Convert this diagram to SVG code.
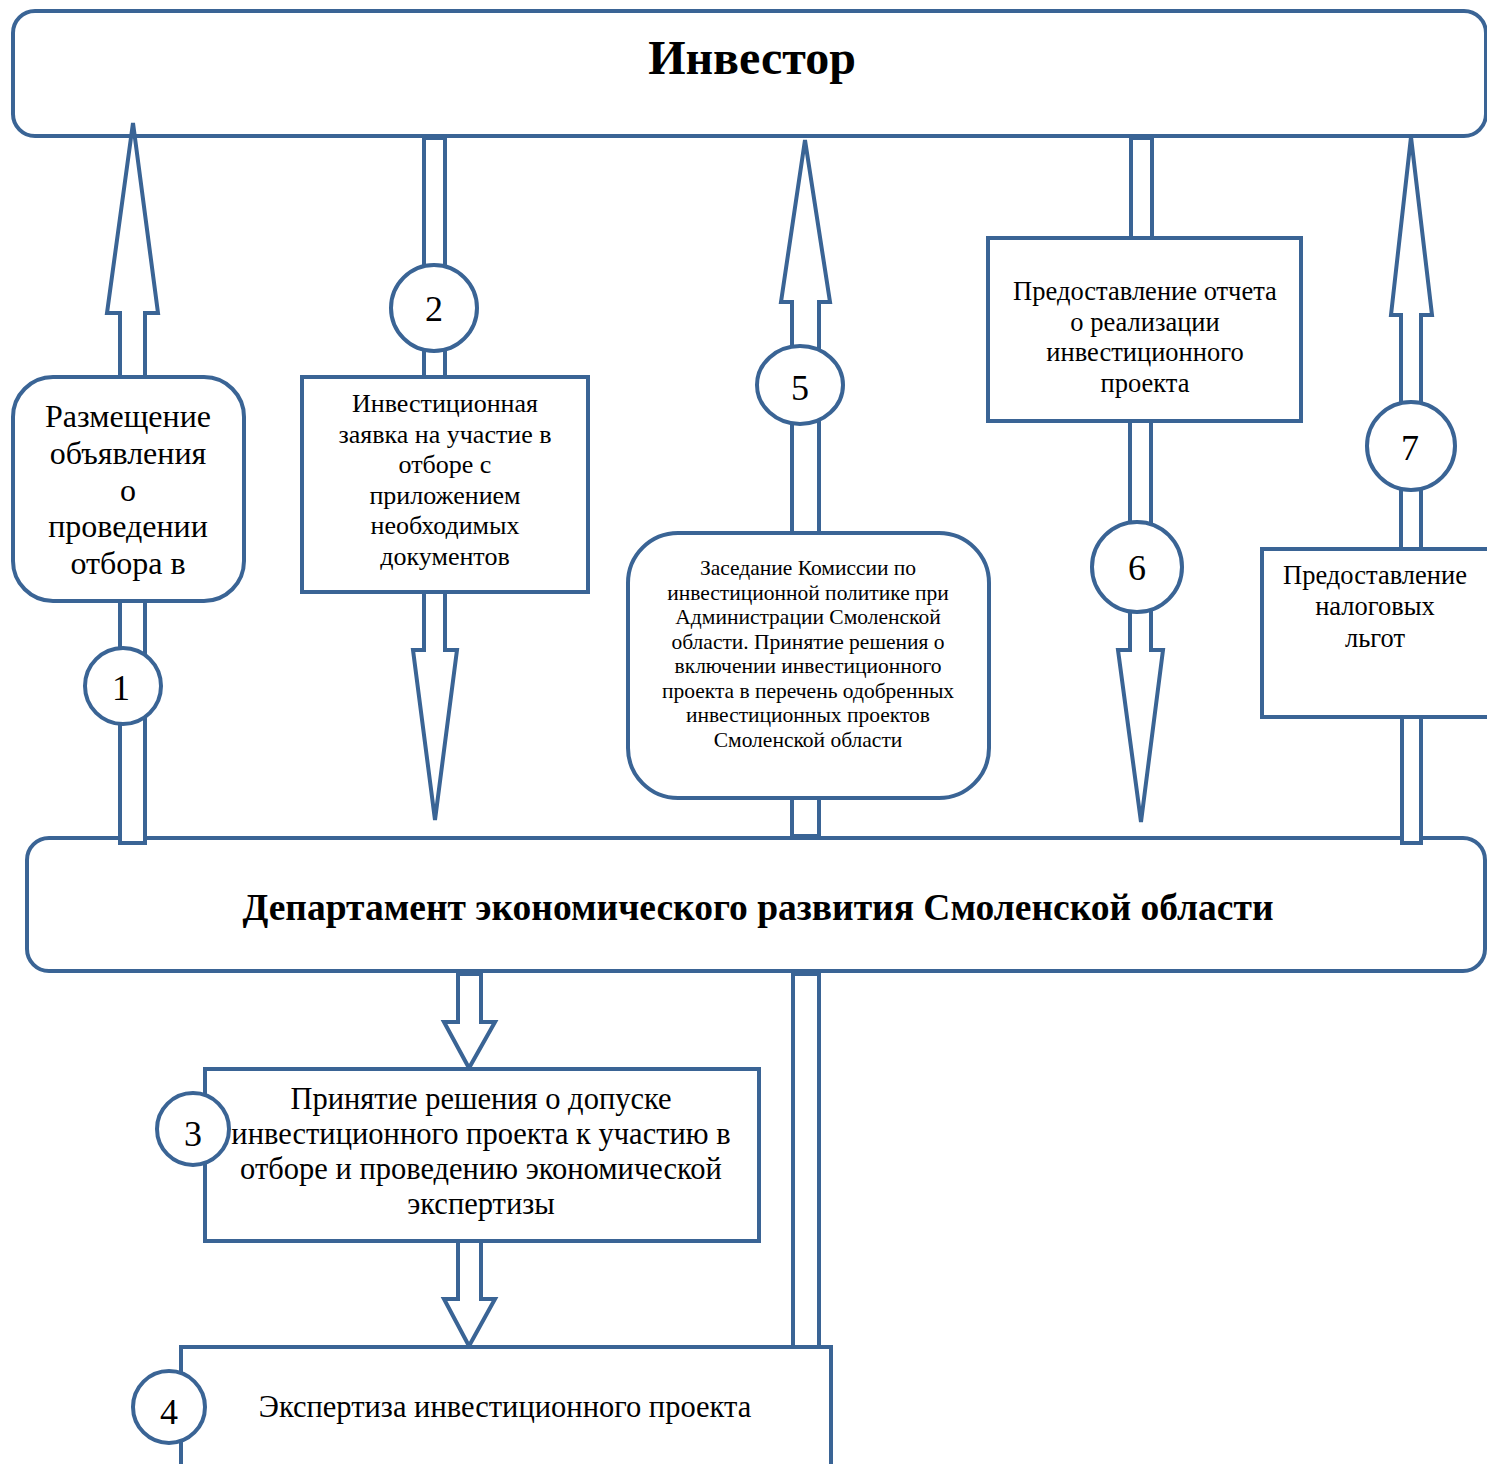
<svg xmlns="http://www.w3.org/2000/svg" width="1487" height="1464" viewBox="0 0 1487 1464">
<style>
.s{fill:#fff;stroke:#3a6495;stroke-width:4;stroke-linejoin:miter}
.t{font-family:"Liberation Serif","Times New Roman",serif;fill:#000;text-anchor:middle}
.b{font-weight:bold}
.n{font-size:36px}
</style>
<rect width="1487" height="1464" fill="#fff"/>
<g id="investor">
<rect class="s" x="13" y="11" width="1473" height="125" rx="22"/>
<text class="t b" x="752" y="74" font-size="48">Инвестор</text>
</g>
<g id="department">
<rect class="s" x="27" y="838" width="1458" height="133" rx="22" stroke-width="5"/>
<text class="t b" x="758" y="920" font-size="37.5">Департамент экономического развития Смоленской области</text>
</g>
<g id="connectors">
<polygon class="s" points="120,377 120,313 107,313 133,123 158,313 145,313 145,377"/>
<rect class="s" x="120" y="601" width="25" height="242"/>
<rect class="s" x="424" y="138" width="21" height="239"/>
<polygon class="s" points="424,592 424,650 413,650 435,820 457,650 445,650 445,592"/>
<polygon class="s" points="792,533 792,302 781,302 805,140 830,302 819,302 819,533"/>
<rect class="s" x="792" y="798" width="27" height="38"/>
<rect class="s" x="1131" y="138" width="21" height="100"/>
<polygon class="s" points="1130,421 1130,650 1118,650 1141,822 1163,650 1151,650 1151,421"/>
<polygon class="s" points="1401,549 1401,315 1391,315 1411,137 1432,315 1421,315 1421,549"/>
<rect class="s" x="1402" y="717" width="19" height="126"/>
<polygon class="s" points="458,974 458,1022 444,1022 469,1068 495,1022 481,1022 481,974"/>
<polygon class="s" points="458,1241 458,1299 444,1299 469,1346 495,1299 481,1299 481,1241"/>
<rect class="s" x="793" y="974" width="26" height="373"/>
</g>
<g id="node1">
<rect class="s" x="13" y="377" width="231" height="224" rx="40"/>
<text class="t" font-size="32"><tspan x="128" y="427">Размещение</tspan><tspan x="128" y="464">объявления</tspan><tspan x="128" y="501">о</tspan><tspan x="128" y="537">проведении</tspan><tspan x="128" y="574">отбора в</tspan></text>
</g>
<g id="node2">
<rect class="s" x="302" y="377" width="286" height="215"/>
<text class="t" font-size="26"><tspan x="445" y="412">Инвестиционная</tspan><tspan x="445" y="443">заявка на участие в</tspan><tspan x="445" y="473">отборе с</tspan><tspan x="445" y="504">приложением</tspan><tspan x="445" y="534">необходимых</tspan><tspan x="445" y="565">документов</tspan></text>
</g>
<g id="node5">
<rect class="s" x="628" y="533" width="361" height="265" rx="50"/>
<text class="t" font-size="21.5"><tspan x="808" y="575">Заседание Комиссии по</tspan><tspan x="808" y="600">инвестиционной политике при</tspan><tspan x="808" y="624">Администрации Смоленской</tspan><tspan x="808" y="649">области. Принятие решения о</tspan><tspan x="808" y="673">включении инвестиционного</tspan><tspan x="808" y="698">проекта в перечень одобренных</tspan><tspan x="808" y="722">инвестиционных проектов</tspan><tspan x="808" y="747">Смоленской области</tspan></text>
</g>
<g id="node6">
<rect class="s" x="988" y="238" width="313" height="183"/>
<text class="t" font-size="26.5"><tspan x="1145" y="300">Предоставление отчета</tspan><tspan x="1145" y="331">о реализации</tspan><tspan x="1145" y="361">инвестиционного</tspan><tspan x="1145" y="392">проекта</tspan></text>
</g>
<g id="node7">
<rect class="s" x="1262" y="549" width="230" height="168"/>
<text class="t" font-size="26.5"><tspan x="1375" y="584">Предоставление</tspan><tspan x="1375" y="615">налоговых</tspan><tspan x="1375" y="647">льгот</tspan></text>
</g>
<g id="node3">
<rect class="s" x="205" y="1069" width="554" height="172"/>
<text class="t" font-size="30.5"><tspan x="481" y="1109">Принятие решения о допуске</tspan><tspan x="481" y="1144">инвестиционного проекта к участию в</tspan><tspan x="481" y="1179">отборе и проведению экономической</tspan><tspan x="481" y="1214">экспертизы</tspan></text>
</g>
<g id="node4">
<rect class="s" x="181" y="1347" width="650" height="140"/>
<text class="t" x="505" y="1417" font-size="30.5">Экспертиза инвестиционного проекта</text>
</g>
<g id="circle1"><circle class="s" cx="123" cy="686" r="38"/><text class="t n" x="121" y="700">1</text></g>
<g id="circle2"><circle class="s" cx="434" cy="308" r="43"/><text class="t n" x="434" y="321">2</text></g>
<g id="circle3"><circle class="s" cx="193" cy="1129" r="36"/><text class="t n" x="193" y="1146">3</text></g>
<g id="circle4"><circle class="s" cx="169" cy="1407" r="36"/><text class="t n" x="169" y="1424">4</text></g>
<g id="circle5"><ellipse class="s" cx="800" cy="385" rx="43" ry="39"/><text class="t n" x="800" y="400">5</text></g>
<g id="circle6"><circle class="s" cx="1137" cy="567" r="45"/><text class="t n" x="1137" y="580">6</text></g>
<g id="circle7"><circle class="s" cx="1411" cy="446" r="44"/><text class="t n" x="1410" y="460">7</text></g>
</svg>
